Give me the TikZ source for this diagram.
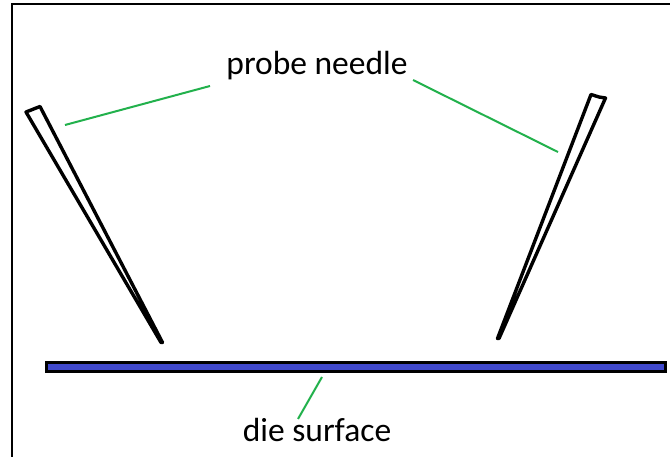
\documentclass[tikz,border=0pt]{standalone}
\usepackage{fontspec}
\setmainfont{Carlito}
\definecolor{leader}{RGB}{34,177,76}
\definecolor{diefill}{RGB}{63,72,204}
\tikzset{
  px/.style={x=1pt,y=-1pt},
  frameline/.style={draw=black,line width=2pt},
  needle/.style={draw=black,line width=3.4pt,line join=round,line cap=round},
  leaderline/.style={draw=leader,line width=2pt},
  die/.style={draw=black,fill=diefill,line width=3.3pt,miter limit=10},
  lbl/.style={inner sep=0pt,font=\fontsize{33.5}{40}\selectfont,text=black,anchor=base}
}
\begin{document}
\begin{tikzpicture}[px]
\useasboundingbox (0,0) rectangle (670,457);
\fill[white] (0,0) rectangle (670,457);
\draw[frameline] (11.5,457) -- (11.5,4.5) -- (670,4.5);
% needles
\draw[needle] (161,342.5) -- (26,112) -- (40,106.5) -- (162.5,342.5) -- cycle;
\draw[needle] (497.5,338.5) -- (591,94.5) -- (599,97) -- (605.5,98) -- (499,338.5) -- cycle;
% die
\draw[die] (46.7,362.7) rectangle (665.5,371.6);
% labels
\node[lbl] (probe) at (317,75) {probe needle};
\node[lbl] (surface) at (317,441) {die surface};
% leader ends
\coordinate (pl0) at (210,86);
\coordinate (pl1) at (65,125);
\coordinate (pr0) at (413,80);
\coordinate (pr1) at (558,152);
\coordinate (sl0) at (298,419);
\coordinate (sl1) at (322,377);
\draw[leaderline] (pl0) -- (pl1);
\draw[leaderline] (pr0) -- (pr1);
\draw[leaderline] (sl0) -- (sl1);
\end{tikzpicture}
\end{document}
